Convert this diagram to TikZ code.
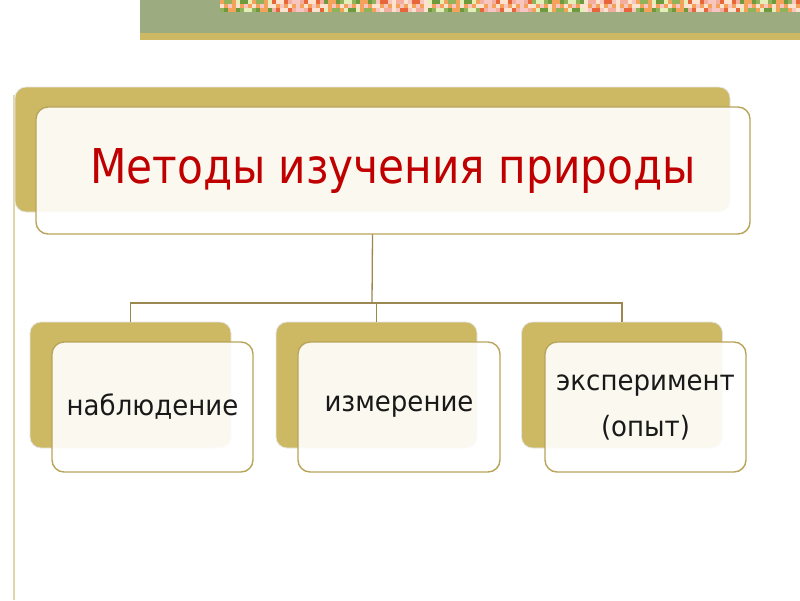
\documentclass[tikz,border=0pt]{standalone}
\usepackage{fontspec}
\newfontfamily\titlefont[FakeStretch=0.88]{DejaVu Sans}
\newfontfamily\boxfont[FakeStretch=0.93]{DejaVu Sans}
\definecolor{bandgreen}{HTML}{9CAC80}
\definecolor{gold}{HTML}{CDB964}
\definecolor{goldline}{HTML}{B8A45A}
\definecolor{conn}{HTML}{9A8850}
\definecolor{vline}{HTML}{E2D6AC}
\definecolor{titlered}{HTML}{C00000}
\definecolor{fa}{HTML}{F4A259}
\definecolor{fb}{HTML}{F7C6C0}
\definecolor{fc}{HTML}{8FB35A}
\definecolor{fd}{HTML}{E8653A}
\definecolor{fe}{HTML}{E4EEB8}
\definecolor{ff}{HTML}{FBE3D0}
\definecolor{fg}{HTML}{6E9A3E}
\definecolor{fh}{HTML}{F2AE9E}
\tikzset{
  backbox/.style={draw=white!80!gray, line width=0.8pt, fill=gold, rounded corners=11pt, inner sep=0pt},
  frontbox/.style={draw=goldline, line width=1.4pt, fill=white, fill opacity=0.9, text opacity=1, rounded corners=12pt, inner sep=0pt, align=center},
  connector/.style={draw=conn, line width=1.3pt},
  lowtext/.style={font=\boxfont\fontsize{28}{46}\selectfont, text=black!90},
}
\begin{document}
\begin{tikzpicture}[x=1pt,y=-1pt]
\useasboundingbox (0,0) rectangle (800,600);
% top band
\fill[bandgreen] (140,0) rectangle (800,33);
\fill[gold] (140,33) rectangle (800,40);
\begin{scope}
\clip (220,0) rectangle (800,12);
\foreach \j in {0,1,2} {
\foreach \i in {0,...,145} {
  \pgfmathtruncatemacro{\m}{mod(\i,13)}
  \pgfmathtruncatemacro{\c}{mod(\i*7+\m*\m*3+\j*5+\j*\i,8)}
  \ifcase\c \def\col{fa}\or\def\col{fb}\or\def\col{fc}\or\def\col{fd}\or\def\col{fe}\or\def\col{ff}\or\def\col{fg}\or\def\col{fh}\fi
  \fill[\col] (220+\i*4,\j*4) rectangle (224+\i*4,4+\j*4);
}}
\end{scope}
% left vertical line
\draw[vline, line width=1.8pt] (14,95) -- (14,600);
% back boxes
\node[backbox, minimum width=715pt, minimum height=125pt] (topback) at (372.5,149.5) {};
\node[backbox, minimum width=201pt, minimum height=126pt] (b1) at (130.5,385) {};
\node[backbox, minimum width=201pt, minimum height=126pt] (b2) at (376.5,385) {};
\node[backbox, minimum width=201pt, minimum height=126pt] (b3) at (622,385) {};
% connectors
\coordinate (bus) at (372,303);
\draw[connector] (topback.south |- 0,234) -- (bus);
\draw[connector] (b1.north) -- (b1.north |- bus) -- (b3.north |- bus) -- (b3.north);
\draw[connector] (b2.north |- bus) -- (b2.north);
% front boxes
\node[frontbox, minimum width=714pt, minimum height=127pt, font=\titlefont\fontsize{48}{56}\selectfont, text=titlered] (topfront) at (393,170.5) {Методы изучения природы};
\node[frontbox, minimum width=201pt, minimum height=130pt, lowtext] (f1) at (152.5,407) {наблюдение};
\node[frontbox, minimum width=202pt, minimum height=130pt, lowtext] (f2) at (399,407) {измерение};
\node[frontbox, minimum width=201pt, minimum height=130pt, lowtext] (f3) at (645.5,407) {эксперимент\\(опыт)};
\end{tikzpicture}
\end{document}
